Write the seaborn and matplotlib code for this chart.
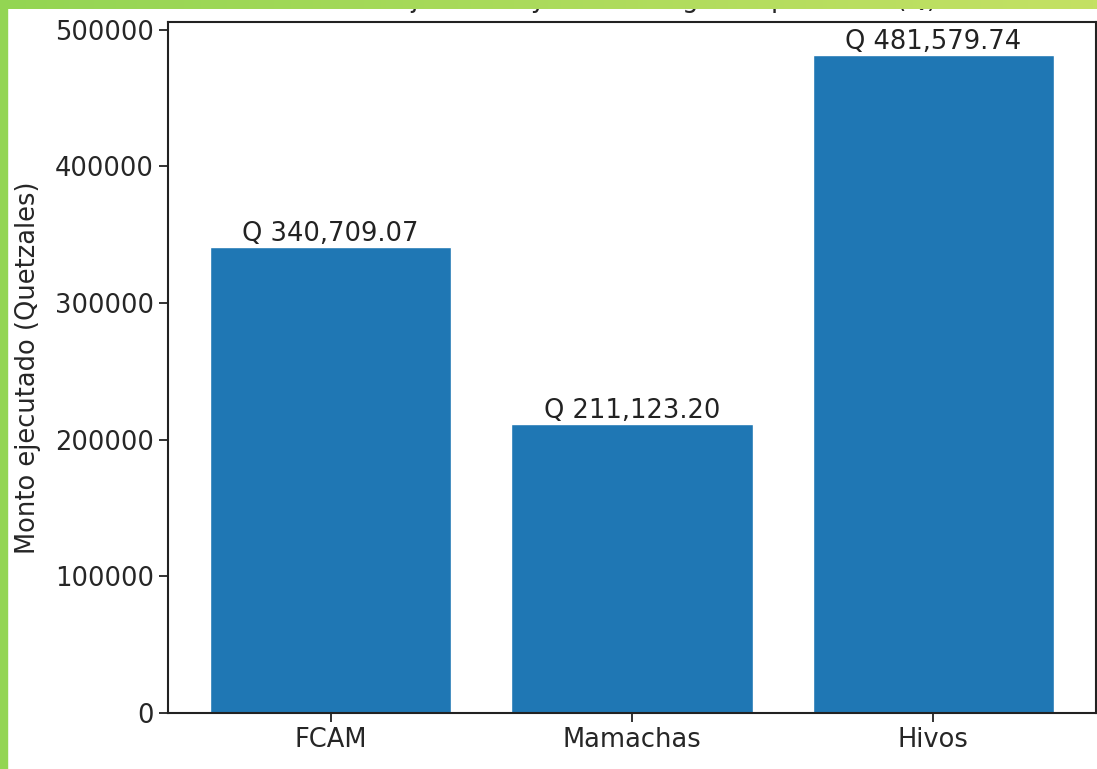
import matplotlib
matplotlib.use('Agg')
import matplotlib.pyplot as plt
import seaborn as sns
import pandas as pd
from matplotlib.patches import Rectangle
from matplotlib.colors import LinearSegmentedColormap
import numpy as np

# Data
socios = ['FCAM', 'Mamachas', 'Hivos']
montos = [340709.07, 211123.20, 481579.74]
titulo = 'Total ejecutado y monto asignado por socio (Q)'

df = pd.DataFrame({'socio': socios, 'monto': montos})

sns.set_style('ticks')
plt.rcParams['font.family'] = ['DejaVu Sans']

W, H = 1097, 769
fig = plt.figure(figsize=(W / 100, H / 100), dpi=100)
ax = fig.add_axes([168 / W, 1 - 713 / H, (1096 - 168) / W, (713 - 22) / H])

sns.barplot(data=df, x='socio', y='monto', color='#1f77b4', saturation=1,
            width=0.8, ax=ax)
ax.set_xlim(-0.54, 2.54)
ax.set_ylim(0, max(montos) * 1.05)

fs = 18.5
for i, v in enumerate(montos):
    ax.text(i, v, f'Q {v:,.2f}', ha='center', va='bottom', fontsize=fs, color='#222222')

ax.set_xlabel('')
ax.set_ylabel('Monto ejecutado (Quetzales)', fontsize=fs, labelpad=10)
ax.tick_params(labelsize=fs, length=6.5, width=1.3, color='#222222')
ax.set_yticks([0, 100000, 200000, 300000, 400000, 500000])
ax.set_yticklabels(['0', '100000', '200000', '300000', '400000', '500000'])
for s in ax.spines.values():
    s.set_linewidth(1.5)
    s.set_color('#222222')
# title sits mostly under the green frame, as in the cropped screenshot
ax.set_title(titulo, fontsize=fs, pad=11)

# green frame of the screenshot
grad = np.linspace(0, 1, 256).reshape(1, -1)
cmap = LinearSegmentedColormap.from_list('g', ['#93d553', '#c4e164'])
top = fig.add_axes([0, 1 - 9 / H, 1, 9 / H])
top.imshow(grad, aspect='auto', cmap=cmap)
top.axis('off')
fig.patches.append(Rectangle((0, 0), 7 / W, 1, transform=fig.transFigure,
                             color='#93d553', zorder=10))

fig.savefig('out.png', dpi=100)
